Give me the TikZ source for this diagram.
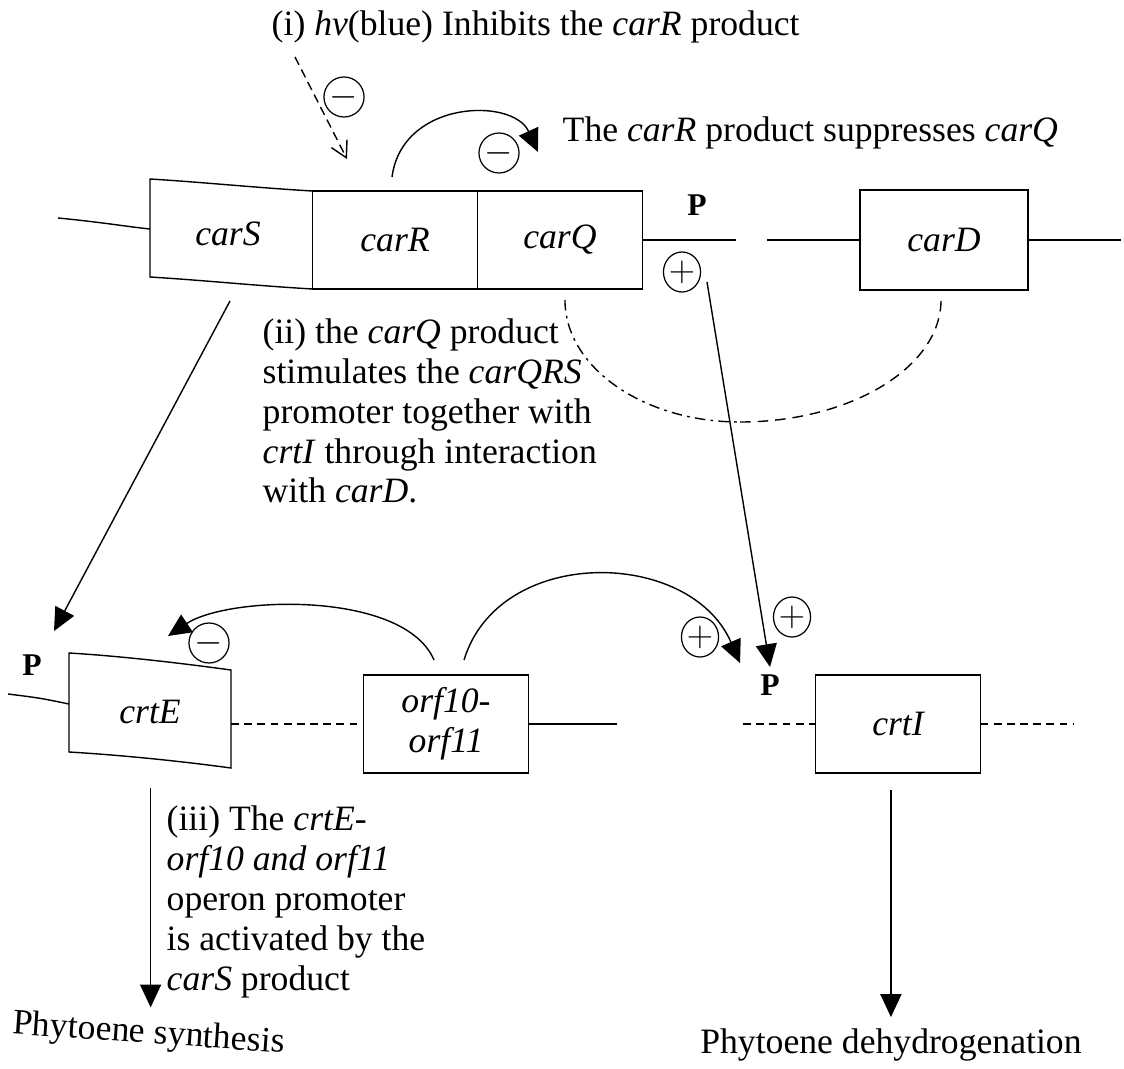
\documentclass[tikz,border=0pt]{standalone}
\usepackage{fontspec}
\setmainfont{Liberation Serif}
\usetikzlibrary{arrows.meta, positioning, shapes.geometric}

\begin{document}
\begin{tikzpicture}[
x=0.02cm, y=-0.02cm,
line width=0.8pt,
font=\fontsize{20.3}{22.7}\selectfont,
gene/.style={
rectangle,
draw,
minimum width=3.3cm,
minimum height=1.96cm,
outer sep=0pt,
font=\fontsize{20.3}{22.7}\selectfont\itshape,
align=center
},
note/.style={
align=left,
inner sep=0pt
},
result/.style={
inner sep=6pt
},
sign/.style={
ellipse,
draw,
line width=0.7pt,
minimum width=0.74cm,
minimum height=0.8cm,
inner sep=0pt,
font=\fontsize{20}{20}\selectfont
},
prom/.style={
inner sep=1pt,
font=\fontsize{18}{18}\selectfont\bfseries
},
arrow/.style={
-{Triangle[length=13pt,width=12pt]}
},
gap/.style={
dash pattern=on 4.5pt off 3pt
}
]

\useasboundingbox (0,0) rectangle (1124,1068);

% upper operon carQRS and carD
\node[gene, draw=none] (carS) at (228,234) {carS};
\node[gene] (carR) at (395,240) {carR};
\node[gene, right=0pt of carR] (carQ) {carQ};
\node[gene, minimum width=3.36cm, minimum height=2cm] (carD) at (944,240) {carD};
\node[prom] (ptop) at (697,205) {P};

\draw (carR.north west) .. controls (260,188) and (200,182) .. (150,179)
-- (150,277) .. controls (200,280) and (260,286) .. (carR.south west);
\draw (58,218) .. controls (100,222) and (130,227) .. (150,229);
\draw (carQ.east) -- (736,240);
\draw (767,240) -- (carD.west);
\draw (carD.east) -- (1121,240);

% lower operons
\node[gene, draw=none, minimum width=3.24cm] (crtE) at (150,712) {crtE};
\node[gene] (orf) at (446,724) {orf10-\\orf11};
\node[gene] (crtI) at (898,724) {crtI};
\node[prom] (pleft) at (32,665) {P};
\node[prom] (pbot) at (770,685) {P};

\draw (69,653) .. controls (120,656) and (180,663) .. (231,670)
-- (231,768) .. controls (180,761) and (120,755) .. (69,752) -- cycle;
\draw (8,694) .. controls (40,698) .. (69,704);
\draw[gap] (crtE.east |- orf.west) -- (orf.west);
\draw (orf.east) -- (617,724);
\draw[gap] (743,724) -- (crtI.west);
\draw[gap] (crtI.east) -- (1073,724);

% texts
\node[note, anchor=base west] (hvtext) at (271,36)
{(i) \textit{hv}(blue) Inhibits the \textit{carR} product};
\node[note, anchor=base west] (suptext) at (562,141)
{The \textit{carR} product suppresses \textit{carQ}};
\node[note, anchor=north west] (qtext) at (262,318)
{(ii) the \textit{carQ} product\\
stimulates the \textit{carQRS}\\
promoter together with\\
\textit{crtI} through interaction\\
with \textit{carD}.};
\node[note, anchor=north west] (stext) at (166,805)
{(iii) The \textit{crtE-}\\
\textit{orf10 and orf11}\\
operon promoter\\
is activated by the\\
\textit{carS} product};
\node[result, anchor=base west, rotate=-4] (synth) at (1,1033) {Phytoene synthesis};
\node[result, anchor=base west] (dehyd) at (689,1053) {Phytoene dehydrogenation};

% signs
\node[sign] (mhv) at (344,97) {$-$};
\node[sign] (mq) at (499,153) {$-$};
\node[sign] (pq) at (682,272) {$+$};
\node[sign] (me) at (209,643) {$-$};
\node[sign] (porf) at (700,637) {$+$};
\node[sign] (pi) at (792,617) {$+$};

% regulation
\coordinate (hv) at (295,57);
\coordinate (hvend) at (347,159);
\draw[dash pattern=on 5pt off 3pt, -{Straight Barb[length=9pt,width=10pt]}] (hv) -- (hvend);

\draw[arrow] ([shift={(-3,-14)}]carR.north) .. controls +(10,-77) and +(-25,-55) .. ([shift={(-22,-39)}]carQ.north);

\draw[arrow] ([shift={(2,18)}]carS.south) -- ([shift={(22,-34)}]pleft.center);

\coordinate (dip) at (740,422);
\draw[dash pattern=on 6pt off 3pt on 1.5pt off 3pt] ([shift={(5,11)}]carQ.south) .. controls +(0,67) and +(-97,0) .. (dip);
\draw[dash pattern=on 6pt off 4pt] (dip) .. controls +(111,0) and +(0,67) .. ([shift={(-3,10)}]carD.south);

\draw[arrow] ([shift={(25,10)}]pq.center) -- ([shift={(0,-18)}]pbot.center);

\draw[arrow] ([shift={(-12,-15)}]orf.north) .. controls +(-30,-70) and +(60,-40) .. ([shift={(18,-27)}]crtE.north);

\draw[arrow] ([shift={(18,-15)}]orf.north) .. controls +(35,-115) and +(-50,-115) .. ([shift={(-30,-22)}]pbot.center);

\draw[arrow] (synth.north |- crtE.south) ++(0,27) -- (synth.north);
\draw[arrow] (dehyd.north |- crtI.south) ++(0,17) -- (dehyd.north);

\end{tikzpicture}
\end{document}
